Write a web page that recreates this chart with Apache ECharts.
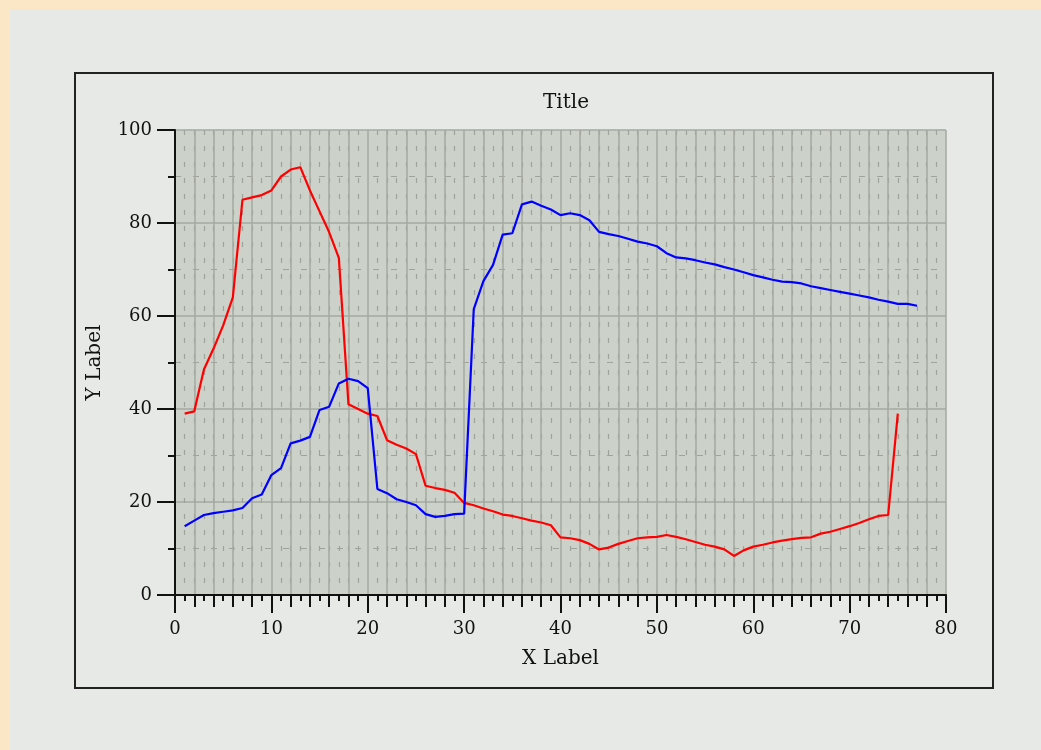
<!DOCTYPE html>
<html>
<head>
<meta charset="utf-8">
<script src="https://cdn.jsdelivr.net/npm/echarts@6/dist/echarts.min.js"></script>
<style>
html,body{margin:0;padding:0;width:1041px;height:750px;overflow:hidden;background:#fbe7c6;}
#panel{position:absolute;left:10px;top:9px;width:1031px;height:741px;background:#e6e9e6;}
#chart{position:absolute;left:0;top:0;width:1041px;height:750px;}
</style>
</head>
<body>
<div id="panel"></div>
<div id="chart"></div>
<script>
// Red series: values at x = 1..75
const redY = [39.0,39.5,48.5,53,58,64,85,85.5,86,87,
  90,91.5,92,87,82.5,78,72.5,41,40,39,
  38.5,33.3,32.3,31.5,30.3,23.5,23,22.6,22,19.8,
  19.3,18.6,18,17.3,17,16.5,16,15.6,15,12.4,
  12.2,11.8,11,9.8,10.2,11,11.6,12.2,12.4,12.5,
  12.9,12.5,12,11.4,10.8,10.4,9.8,8.4,9.6,10.4,
  10.8,11.3,11.7,12,12.3,12.4,13.2,13.6,14.2,14.8,
  15.5,16.3,17,17.2,39];
// Blue series: values at x = 1..77
const blueY = [14.8,16,17.2,17.6,17.9,18.2,18.7,20.8,21.6,25.8,
  27.3,32.6,33.2,34,39.8,40.5,45.5,46.5,46,44.5,
  22.8,21.9,20.6,20,19.3,17.4,16.8,17,17.4,17.5,
  61.5,67.5,71,77.5,77.8,84,84.6,83.7,82.9,81.7,
  82.1,81.7,80.6,78.1,77.6,77.2,76.6,76,75.6,75,
  73.5,72.6,72.4,72,71.5,71.1,70.5,70,69.4,68.8,
  68.3,67.8,67.4,67.3,67,66.4,66,65.6,65.2,64.8,
  64.4,64,63.5,63.1,62.6,62.6,62.2];
const xTicks = [0,10,20,30,40,50,60,70,80];
const yTicks = [0,20,40,60,80,100];
const titleText = 'Title';
const xName = 'X Label';
const yName = 'Y Label';

const redData = redY.map((v,i)=>[i+1,v]);
const blueData = blueY.map((v,i)=>[i+1,v]);

const FONT = 'DejaVu Serif';
const gridSolid = '#a4a9a2';
const gridDash = '#9ea39c';

const chart = echarts.init(document.getElementById('chart'), null, {renderer:'canvas'});
chart.setOption({
  backgroundColor: 'transparent',
  animation: false,
  title: {
    text: titleText, left: 561, top: 88, textAlign: 'center',
    textStyle: {fontFamily: FONT, fontSize: 20, fontWeight: 'normal', color: '#111'}
  },
  graphic: [{
    type: 'rect', shape: {x: 75, y: 73, width: 918, height: 615},
    style: {fill: 'none', stroke: '#222', lineWidth: 2}, z: 100
  }],
  grid: {left: 175, right: 95, top: 130, bottom: 155, show: true,
    backgroundColor: '#ccd2c9', borderWidth: 0},
  xAxis: [{
    type: 'value', min: xTicks[0], max: xTicks[xTicks.length-1], interval: 10,
    position: 'bottom',
    name: xName, nameLocation: 'middle', nameGap: 54,
    nameTextStyle: {fontFamily: FONT, fontSize: 20, color: '#111'},
    axisLine: {show: true, onZero: false, lineStyle: {color: '#111', width: 2}},
    axisTick: {show: true, length: 18, lineStyle: {color: '#111', width: 2}},
    minorTick: {show: true, splitNumber: 10, length: 6, lineStyle: {color: '#111', width: 2}},
    axisLabel: {fontFamily: FONT, fontSize: 18, color: '#111', margin: 25},
    splitLine: {show: false},
    minorSplitLine: {show: true, lineStyle: {color: gridDash, width: 1.2, type: [5, 11]}}
  },{
    type: 'value', min: xTicks[0], max: xTicks[xTicks.length-1], interval: 2,
    position: 'bottom', offset: 0,
    axisLine: {show: false},
    axisTick: {show: true, length: 12, lineStyle: {color: '#111', width: 2}},
    axisLabel: {show: false},
    splitLine: {show: true, lineStyle: {color: gridSolid, width: 1.5}}
  }],
  yAxis: [{
    type: 'value', min: yTicks[0], max: yTicks[yTicks.length-1], interval: 20,
    position: 'left',
    name: yName, nameLocation: 'middle', nameGap: 70, nameRotate: 90,
    nameTextStyle: {fontFamily: FONT, fontSize: 20, color: '#111'},
    axisLine: {show: true, onZero: false, lineStyle: {color: '#111', width: 2}},
    axisTick: {show: true, length: 18, lineStyle: {color: '#111', width: 2}},
    minorTick: {show: true, splitNumber: 2, length: 7, lineStyle: {color: '#111', width: 2}},
    axisLabel: {fontFamily: FONT, fontSize: 18, color: '#111', margin: 23},
    splitLine: {show: true, lineStyle: {color: gridSolid, width: 1.5}},
    minorSplitLine: {show: true, lineStyle: {color: gridDash, width: 1.2, type: [6, 12]}}
  }],
  series: [{
    type: 'line', name: 'red', data: redData, xAxisIndex: 0, yAxisIndex: 0,
    showSymbol: false, symbol: 'none',
    lineStyle: {color: '#ff0000', width: 2.2}, z: 5
  },{
    type: 'line', name: 'blue', data: blueData, xAxisIndex: 0, yAxisIndex: 0,
    showSymbol: false, symbol: 'none',
    lineStyle: {color: '#0000ff', width: 2.2}, z: 6
  }]
});
</script>
</body>
</html>
